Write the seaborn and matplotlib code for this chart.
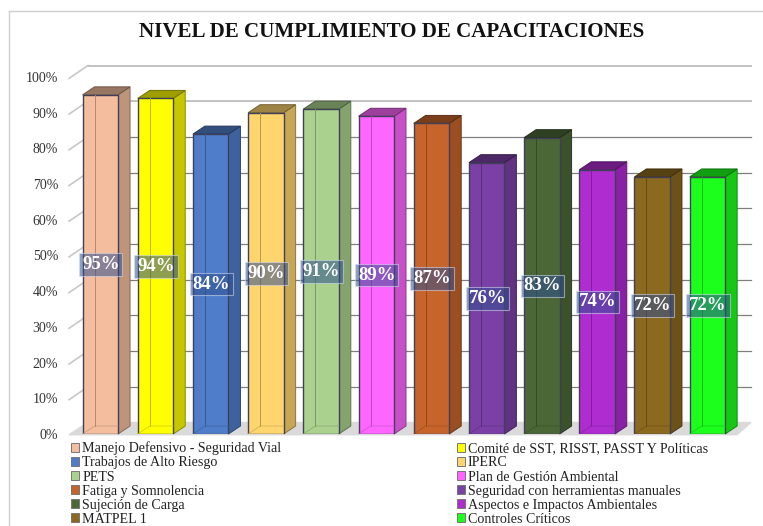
import matplotlib
matplotlib.use("Agg")
import matplotlib.pyplot as plt
from matplotlib.colors import to_rgb
from matplotlib.lines import Line2D
from matplotlib.patches import Patch, Rectangle
import seaborn as sns

CATEGORIES = [
    "Manejo Defensivo - Seguridad Vial",
    "Comité de SST, RISST, PASST Y Políticas",
    "Trabajos de Alto Riesgo",
    "IPERC",
    "PETS",
    "Plan de Gestión Ambiental",
    "Fatiga y Somnolencia",
    "Seguridad con herramientas manuales",
    "Sujeción de Carga",
    "Aspectos e Impactos Ambientales",
    "MATPEL 1",
    "Controles Críticos",
]
VALUES = [95, 94, 84, 90, 91, 89, 87, 76, 83, 74, 72, 72]
COLORS = [
    "#F4BE9E", "#FFFF00", "#4F7DC9", "#FFD56E", "#AAD18D", "#FF66FF",
    "#C7642B", "#7B40A6", "#4B6637", "#AE2CD0", "#8B691F", "#1CFF1C",
]
Y_TICKS = list(range(0, 101, 10))

W, H = 763, 526
AX_LEFT, AX_RIGHT = 72.7, 735.0
AX_TOP, AX_BOTTOM = 77.0, 434.0
PX_X = (AX_RIGHT - AX_LEFT) / len(VALUES)
PX_Y = (AX_BOTTOM - AX_TOP) / 100

# bar depth and wall offset, in data units
BAR_DX = 12 / PX_X
BAR_DY = 8 / PX_Y
WALL_DY = 11.5 / PX_Y


def x_data(px):
    return (px - AX_LEFT) / PX_X - 0.5


def darker(color, factor):
    return tuple(c * factor for c in to_rgb(color))


plt.rcParams["font.family"] = ["Liberation Serif", "DejaVu Serif"]

fig = plt.figure(figsize=(W / 100, H / 100), dpi=100)
ax = fig.add_axes([AX_LEFT / W, 1 - AX_BOTTOM / H, (AX_RIGHT - AX_LEFT) / W, (AX_BOTTOM - AX_TOP) / H])

sns.barplot(
    x=CATEGORIES, y=VALUES, hue=CATEGORIES, palette=COLORS, order=CATEGORIES, hue_order=CATEGORIES,
    width=35.5 / PX_X, dodge=False, legend=False, saturation=1, edgecolor="#3F3F5A", linewidth=1, zorder=4, ax=ax,
)
bars = sorted([p for p in ax.patches if isinstance(p, Rectangle) and p.get_height() > 0], key=lambda p: p.get_x())

# floor and back wall
wall_left, wall_right = x_data(88), x_data(751)
floor_left, floor_right = x_data(69), x_data(737)
ax.fill(
    [floor_left, floor_right, wall_right, wall_left],
    [-0.2, -0.2, WALL_DY, WALL_DY],
    color="#DADADA", zorder=1, clip_on=False,
)
for tick in Y_TICKS[1:]:
    line_color = "#C2C2C2" if tick >= 90 else "#7F7F7F"
    line_width = 1.4 if tick >= 90 else 0.9
    ax.plot([wall_left, wall_right], [tick + WALL_DY] * 2, color=line_color, lw=line_width, zorder=1, clip_on=False)
    ax.plot([floor_left, wall_left], [tick - 0.4, tick + WALL_DY], color="#C8C8C8", lw=1.2, zorder=1, clip_on=False)

for bar, color, value in zip(bars, COLORS, VALUES):
    x0 = bar.get_x()
    x1 = x0 + bar.get_width()
    top = bar.get_height()
    # side and top faces
    ax.fill(
        [x1, x1 + BAR_DX, x1 + BAR_DX, x1], [0, BAR_DY, top + BAR_DY, top],
        facecolor=darker(color, 0.78), edgecolor=darker(color, 0.55), lw=0.7, zorder=3, clip_on=False,
    )
    ax.fill(
        [x0, x1, x1 + BAR_DX, x0 + BAR_DX], [top, top, top + BAR_DY, top + BAR_DY],
        facecolor=darker(color, 0.62), edgecolor=darker(color, 0.45), lw=0.7, zorder=3, clip_on=False,
    )
    # hidden back edge showing through the front face
    ax.plot([x0 + BAR_DX] * 2, [BAR_DY, top], color=darker(color, 0.72), lw=0.7, zorder=5)
    ax.plot([x0, x0 + BAR_DX, x1], [0, BAR_DY, BAR_DY], color=darker(color, 0.8), lw=0.5, zorder=5)
    ax.text(
        (x0 + x1) / 2 + 0.01, top / 2, f"{value}%", ha="center", va="center", color="white",
        fontsize=13.5, fontweight="bold", zorder=7,
        bbox=dict(boxstyle="square,pad=0.15", facecolor="#2F4F8F", edgecolor="#D8E0F0", alpha=0.55, lw=0.8),
    )

ax.set_xlim(-0.5, len(VALUES) - 0.5)
ax.set_ylim(0, 100)
ax.set_xticks([])
ax.set_xlabel("")
ax.set_ylabel("")
ax.set_yticks(Y_TICKS)
ax.set_yticklabels([f"{t}%" for t in Y_TICKS], fontsize=10, color="#333333")
ax.tick_params(axis="y", length=0, pad=10.5)
ax.patch.set_visible(False)
sns.despine(ax=ax, left=True, bottom=True)

# outer frame: only top and left edges are inside the picture
frame_kw = dict(transform=fig.transFigure, color="#CFCFCF", lw=1)
fig.add_artist(Line2D([9 / W, 1], [1 - 11 / H] * 2, **frame_kw))
fig.add_artist(Line2D([9 / W, 9 / W], [0, 1 - 11 / H], **frame_kw))
fig.text(392 / W, 1 - 32 / H, "NIVEL DE CUMPLIMIENTO DE CAPACITACIONES", ha="center", va="center", fontsize=15.1, fontweight="bold", color="#111111")

# row-wise order for a two column legend
handles = [Patch(facecolor=c, edgecolor="#777777", lw=0.7) for c in COLORS]
order = list(range(0, 12, 2)) + list(range(1, 12, 2))
fig.legend(
    [handles[i] for i in order], [CATEGORIES[i] for i in order], ncol=2,
    loc="upper left", bbox_to_anchor=(71 / W, 1 - 441.5 / H), frameon=False, fontsize=10.1,
    handlelength=0.6, handleheight=0.6, handletextpad=0.2, labelspacing=0.08, columnspacing=12.5,
    borderpad=0, borderaxespad=0, labelcolor="#222222",
)

fig.savefig("out.png", dpi=100)
